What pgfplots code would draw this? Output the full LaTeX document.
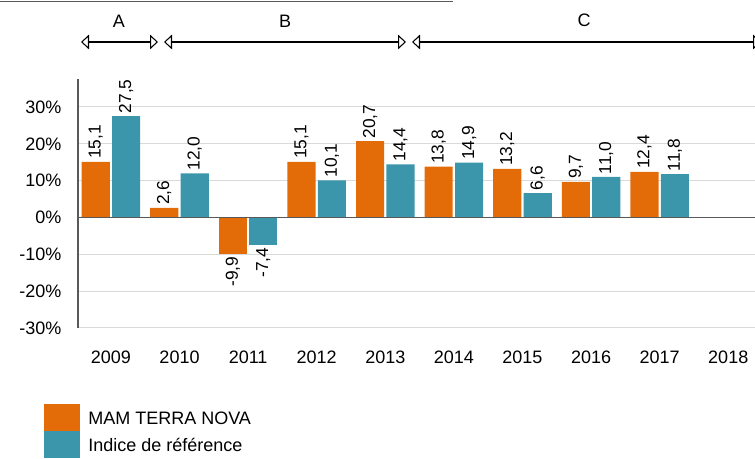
\documentclass[border=0pt]{standalone}
\usepackage{fontspec}
\setmainfont{Liberation Sans}
\usepackage{pgfplots}
\pgfplotsset{compat=1.18}
\usetikzlibrary{arrows.meta}
\definecolor{mamorange}{HTML}{E36C09}
\definecolor{refteal}{HTML}{3B96AB}
\definecolor{gridgray}{HTML}{D9D9D9}
\definecolor{axisgray}{HTML}{595959}
\pgfplotsset{
  sqlegend/.style={legend image code/.code={\fill[##1] (0pt,-10.125pt) rectangle (27pt,10.125pt);}},
  neglabel/.style={every node near coord/.append style={anchor=east}}
}
\begin{document}
\begin{tikzpicture}
\begin{axis}[
  name=ax, anchor=south west,
  scale only axis, width=507.75pt, height=186.75pt,
  xmin=-0.48, xmax=9.39, ymin=-30, ymax=37.6,
  ybar, bar width=0.41,
  clip=false,
  axis y line*=left, axis x line*=bottom,
  y axis line style={axisgray, line width=1pt},
  x axis line style={draw=none},
  major tick length=0pt,
  ytick={-30,-20,-10,0,10,20,30},
  yticklabel={\pgfmathprintnumber{\tick}\%},
  xtick={0,1,2,3,4,5,6,7,8,9},
  xticklabels={2009,2010,2011,2012,2013,2014,2015,2016,2017,2018},
  /pgf/number format/assume math mode=true,
  tick label style={font=\fontsize{13.5}{16}\selectfont, black},
  yticklabel style={xshift=-9pt},
  xticklabel style={yshift=-13.5pt},
  ymajorgrids, grid style={gridgray, line width=0.75pt},
  point meta=y,
  nodes near coords={\pgfmathprintnumber[fixed,fixed zerofill,precision=1,use comma,assume math mode=true]{\pgfplotspointmeta}},
  every node near coord/.append style={rotate=90, anchor=west, font=\fontsize{13}{15}\selectfont, inner sep=2pt, black},
  legend style={at={(-0.0502,-0.3052)}, anchor=north west, draw=none, fill=none, inner sep=0pt, row sep=0pt,
    font=\fontsize{13.5}{16}\selectfont,
    nodes={inner xsep=6pt, inner ysep=0pt, text height=9.7pt, text depth=0pt},
    cells={anchor=west}},
  legend cell align=left,
]
\addplot[fill=mamorange, draw=none, bar shift=-0.222, sqlegend] coordinates {
(0,15.1) (1,2.6) (3,15.1) (4,20.7) (5,13.8) (6,13.2) (7,9.7) (8,12.4)};
\addlegendentry{MAM TERRA NOVA}
\addplot[fill=refteal, draw=none, bar shift=0.222, sqlegend] coordinates {
(0,27.5) (1,12.0) (3,10.1) (4,14.4) (5,14.9) (6,6.6) (7,11.0) (8,11.8)};
\addlegendentry{Indice de référence}
\addplot[fill=mamorange, draw=none, bar shift=-0.222, neglabel, forget plot] coordinates {(2,-9.9)};
\addplot[fill=refteal, draw=none, bar shift=0.222, neglabel, forget plot] coordinates {(2,-7.4)};
\draw[axisgray, line width=1pt] (-0.48,0) -- (9.39,0);
\end{axis}
\begin{scope}[shift={(ax.south west)}, x=0.75pt, y=0.75pt, shift={(-78,-131)}]
\pgfresetboundingbox
\useasboundingbox (0,0) rectangle (755,459);
\draw[axisgray, line width=1pt] (0,457.5) -- (453,457.5);
\tikzset{rng/.style={line width=0.8pt, {Triangle[open,length=6pt,width=11pt]}-{Triangle[open,length=6pt,width=11pt]}}}
\draw[rng] (81,417) -- (158,417);
\draw[rng] (164,417) -- (406,417);
\draw[rng] (412,417) -- (761,417);
\node[font=\fontsize{13.5}{16}\selectfont] at (119,438) {A};
\node[font=\fontsize{13.5}{16}\selectfont] at (285,438) {B};
\node[font=\fontsize{13.5}{16}\selectfont] at (584,439) {C};
\end{scope}
\end{tikzpicture}
\end{document}
